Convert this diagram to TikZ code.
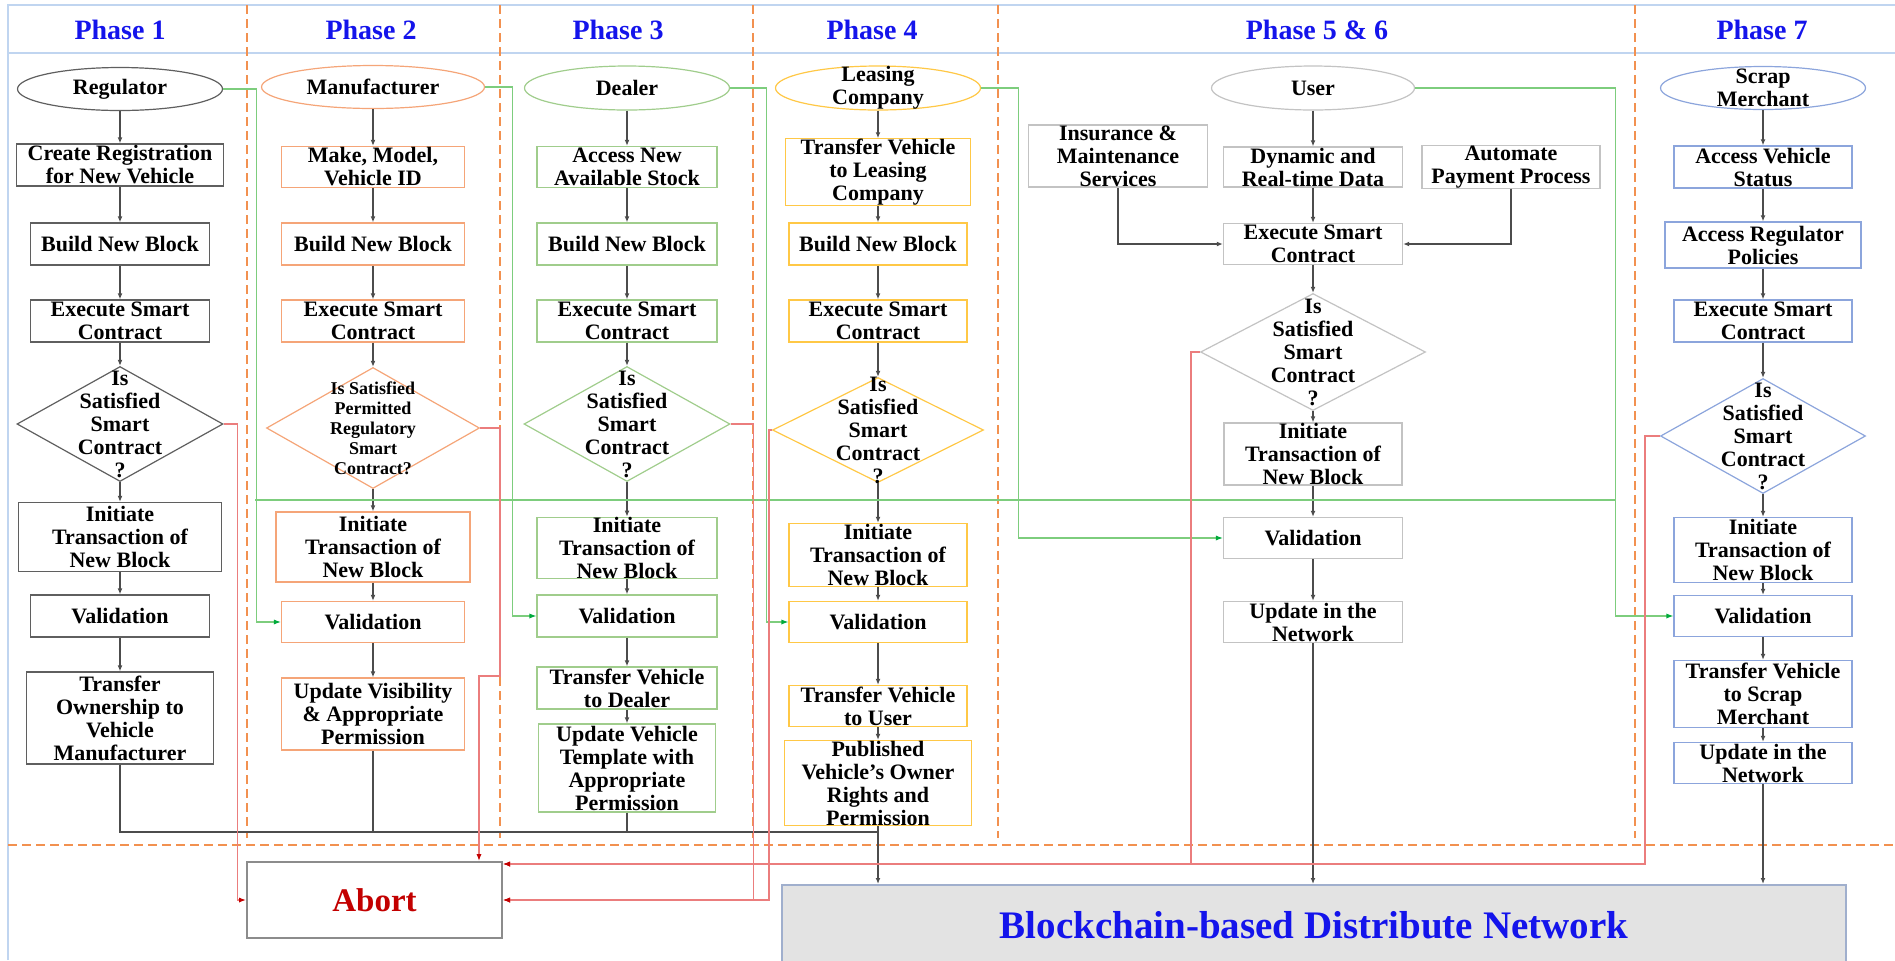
\documentclass[tikz,border=0pt]{standalone}
\usepackage{fontspec}
\setmainfont{Liberation Serif}
\usetikzlibrary{shapes.geometric,arrows.meta,calc}
\definecolor{frameblue}{RGB}{192,213,240}
\definecolor{sepor}{RGB}{242,145,80}
\definecolor{ttlblue}{RGB}{20,20,235}
\definecolor{c1}{RGB}{95,95,95}
\definecolor{c2}{RGB}{245,165,120}
\definecolor{c3}{RGB}{160,205,140}
\definecolor{c4}{RGB}{255,200,70}
\definecolor{c5}{RGB}{195,195,195}
\definecolor{c7}{RGB}{140,165,220}
\definecolor{lnkgreen}{RGB}{125,205,125}
\definecolor{tipgreen}{RGB}{0,170,60}
\definecolor{lnkred}{RGB}{235,125,125}
\definecolor{abortred}{RGB}{195,0,0}
\definecolor{chaingray}{RGB}{227,227,227}
\definecolor{chainedge}{RGB}{160,175,205}

\begin{document}
\begin{tikzpicture}
  [x=0.5pt,y=-0.5pt,
   every node/.style={font=\bfseries\fontsize{11}{11.5}\selectfont,align=center,inner sep=0pt},
   box/.style={draw,rectangle,fill=white,line width=0.6pt},
   oval/.style={draw,ellipse,fill=white,line width=0.6pt},
   dia/.style={draw,diamond,fill=white,line width=0.6pt},
   ttl/.style={text=ttlblue,font=\bfseries\fontsize{14}{16}\selectfont},
   arr/.style={draw=black!70,line width=0.6pt,-{Latex[length=3pt,width=2.4pt]}},
   gline/.style={draw=lnkgreen,line width=0.6pt},
   grn/.style={gline,-{Latex[length=3.5pt,width=2.6pt,color=tipgreen]}},
   nok/.style={draw=lnkred,line width=0.6pt,-{Latex[length=3.5pt,width=2.6pt,color=abortred]}},
   sep/.style={draw=sepor,dash pattern=on 4.5pt off 2.5pt,line width=0.8pt}]
  \useasboundingbox (0,0) rectangle (1895,960);

  \draw[frameblue,line width=1.2pt] (8,960) -- (8,5) -- (1895,5);
  \draw[frameblue,line width=1.2pt] (8,53) -- (1895,53);
  \foreach \sx in {247,500,753,998,1635}
    \draw[sep] (\sx,5) -- (\sx,838);
  \draw[sep] (8,845) -- (1895,845);

  \node[ttl] (t1) at (120,30) {Phase 1};
  \node[ttl] (t2) at (371,30) {Phase 2};
  \node[ttl] (t3) at (618,30) {Phase 3};
  \node[ttl] (t4) at (872,30) {Phase 4};
  \node[ttl] (t5) at (1317,30) {Phase 5 \& 6};
  \node[ttl] (t7) at (1762,30) {Phase 7};

  \node[oval,draw=c1,minimum width=102.5pt,minimum height=21.5pt,label=center:Regulator] (reg) at (120,89) {};
  \node[box,draw=c1,minimum width=103.5pt,minimum height=21pt] (p1a) at (120,165) {Create Registration\\for New Vehicle};
  \node[box,draw=c1,minimum width=89.5pt,minimum height=21pt] (p1b) at (120,244) {Build New Block};
  \node[box,draw=c1,minimum width=89.5pt,minimum height=21pt] (p1c) at (120,321) {Execute Smart\\Contract};
  \node[dia,draw=c1,minimum width=103pt,minimum height=57.5pt,label={center:{Is\\Satisfied\\Smart\\Contract\\?}}] (p1d) at (120,424) {};
  \node[box,draw=c1,minimum width=101.5pt,minimum height=34.5pt] (p1e) at (120,537) {Initiate\\Transaction of\\New Block};
  \node[box,draw=c1,minimum width=89.5pt,minimum height=21pt] (p1f) at (120,616) {Validation};
  \node[box,draw=c1,minimum width=93.5pt,minimum height=46pt] (p1g) at (120,718) {Transfer\\Ownership to\\Vehicle\\Manufacturer};

  \node[oval,draw=c2,minimum width=111.5pt,minimum height=21.5pt,label=center:Manufacturer] (man) at (373,87) {};
  \node[box,draw=c2,minimum width=91.5pt,minimum height=20.5pt] (p2a) at (373,167) {Make, Model,\\Vehicle ID};
  \node[box,draw=c2,minimum width=91.5pt,minimum height=21pt] (p2b) at (373,244) {Build New Block};
  \node[box,draw=c2,minimum width=91.5pt,minimum height=21pt] (p2c) at (373,321) {Execute Smart\\Contract};
  \node[dia,draw=c2,minimum width=106.5pt,minimum height=60.5pt,label={[font=\bfseries\fontsize{9}{10}\selectfont]center:{Is Satisfied\\Permitted\\Regulatory\\Smart\\Contract?}}] (p2d) at (373,428) {};
  \node[box,draw=c2,minimum width=97pt,minimum height=35pt] (p2e) at (373,547) {Initiate\\Transaction of\\New Block};
  \node[box,draw=c2,minimum width=91.5pt,minimum height=20.5pt] (p2f) at (373,622) {Validation};
  \node[box,draw=c2,minimum width=91.5pt,minimum height=36pt] (p2g) at (373,714) {Update Visibility\\\& Appropriate\\Permission};

  \node[oval,draw=c3,minimum width=102.5pt,minimum height=22pt,label=center:Dealer] (dea) at (627,88) {};
  \node[box,draw=c3,minimum width=90pt,minimum height=20.5pt] (p3a) at (627,167) {Access New\\Available Stock};
  \node[box,draw=c3,minimum width=90pt,minimum height=21pt] (p3b) at (627,244) {Build New Block};
  \node[box,draw=c3,minimum width=90pt,minimum height=21pt] (p3c) at (627,321) {Execute Smart\\Contract};
  \node[dia,draw=c3,minimum width=103pt,minimum height=57.5pt,label={center:{Is\\Satisfied\\Smart\\Contract\\?}}] (p3d) at (627,424) {};
  \node[box,draw=c3,minimum width=90pt,minimum height=30pt] (p3e) at (627,548) {Initiate\\Transaction of\\New Block};
  \node[box,draw=c3,minimum width=90pt,minimum height=21pt] (p3f) at (627,616) {Validation};
  \node[box,draw=c3,minimum width=90pt,minimum height=21pt] (p3g) at (627,688) {Transfer Vehicle\\to Dealer};
  \node[box,draw=c3,minimum width=88.5pt,minimum height=44pt] (p3h) at (627,768) {Update Vehicle\\Template with\\Appropriate\\Permission};

  \node[oval,draw=c4,minimum width=102.5pt,minimum height=22pt,label={center:{Leasing\\Company}}] (lea) at (878,88) {};
  \node[box,draw=c4,minimum width=92.5pt,minimum height=32.5pt] (p4a) at (878,172) {Transfer Vehicle\\to Leasing\\Company};
  \node[box,draw=c4,minimum width=89pt,minimum height=21pt] (p4b) at (878,244) {Build New Block};
  \node[box,draw=c4,minimum width=89pt,minimum height=21pt] (p4c) at (878,321) {Execute Smart\\Contract};
  \node[dia,draw=c4,minimum width=105.5pt,minimum height=52.5pt,label={center:{Is\\Satisfied\\Smart\\Contract\\?}}] (p4d) at (878,430) {};
  \node[box,draw=c4,minimum width=89pt,minimum height=31.5pt] (p4e) at (878,555) {Initiate\\Transaction of\\New Block};
  \node[box,draw=c4,minimum width=89pt,minimum height=20.5pt] (p4f) at (878,622) {Validation};
  \node[box,draw=c4,minimum width=89pt,minimum height=20.5pt] (p4g) at (878,706) {Transfer Vehicle\\to User};
  \node[box,draw=c4,minimum width=93.5pt,minimum height=42.5pt] (p4h) at (878,783) {Published\\Vehicle’s Owner\\Rights and\\Permission};

  \node[oval,draw=c5,minimum width=101.5pt,minimum height=22pt,label=center:User] (usr) at (1313,88) {};
  \node[box,draw=c5,minimum width=89.5pt,minimum height=31pt] (p5i) at (1118,156) {Insurance \&\\Maintenance\\Services};
  \node[box,draw=c5,minimum width=89.5pt,minimum height=20pt] (p5a) at (1313,167) {Dynamic and\\Real-time Data};
  \node[box,draw=c5,minimum width=89pt,minimum height=20pt] (p5p) at (1511,167) {Automate\\Payment Process};
  \node[box,draw=c5,minimum width=89.5pt,minimum height=20.5pt] (p5c) at (1313,244) {Execute Smart\\Contract};
  \node[dia,draw=c5,minimum width=112.5pt,minimum height=58.5pt,label={center:{Is\\Satisfied\\Smart\\Contract\\?}}] (p5d) at (1313,352) {};
  \node[box,draw=c5,minimum width=89pt,minimum height=31pt] (p5e) at (1313,454) {Initiate\\Transaction of\\New Block};
  \node[box,draw=c5,minimum width=89.5pt,minimum height=20.5pt] (p5f) at (1313,538) {Validation};
  \node[box,draw=c5,minimum width=89.5pt,minimum height=20.5pt] (p5g) at (1313,622) {Update in the\\Network};

  \node[oval,draw=c7,minimum width=102.5pt,minimum height=21.5pt,label={center:{Scrap\\Merchant}}] (scr) at (1763,88) {};
  \node[box,draw=c7,minimum width=89pt,minimum height=21pt] (p7a) at (1763,167) {Access Vehicle\\Status};
  \node[box,draw=c7,minimum width=98pt,minimum height=23pt] (p7b) at (1763,245) {Access Regulator\\Policies};
  \node[box,draw=c7,minimum width=89pt,minimum height=21pt] (p7c) at (1763,321) {Execute Smart\\Contract};
  \node[dia,draw=c7,minimum width=102.5pt,minimum height=57.5pt,label={center:{Is\\Satisfied\\Smart\\Contract\\?}}] (p7d) at (1763,436) {};
  \node[box,draw=c7,minimum width=89pt,minimum height=32.5pt] (p7e) at (1763,550) {Initiate\\Transaction of\\New Block};
  \node[box,draw=c7,minimum width=89pt,minimum height=20.5pt] (p7f) at (1763,616) {Validation};
  \node[box,draw=c7,minimum width=89pt,minimum height=33.5pt] (p7g) at (1763,694) {Transfer Vehicle\\to Scrap\\Merchant};
  \node[box,draw=c7,minimum width=89pt,minimum height=20.5pt] (p7h) at (1763,763) {Update in the\\Network};

  \node[draw=black!45,line width=1pt,fill=white,minimum width=127.5pt,minimum height=38pt,text=abortred,font=\bfseries\fontsize{16.5}{18}\selectfont] (abort) at (374.5,900) {Abort};
  \node[draw=chainedge,fill=chaingray,line width=1pt,minimum width=532pt,minimum height=40pt,text=ttlblue,font=\bfseries\fontsize{19.5}{22}\selectfont] (chain) at (1314,925) {Blockchain-based Distribute Network};

  \foreach \from/\to in {reg/p1a,p1a/p1b,p1b/p1c,p1c/p1d,p1d/p1e,p1e/p1f,p1f/p1g,
      man/p2a,p2a/p2b,p2b/p2c,p2c/p2d,p2d/p2e,p2e/p2f,p2f/p2g,
      dea/p3a,p3a/p3b,p3b/p3c,p3c/p3d,p3d/p3e,p3e/p3f,p3f/p3g,p3g/p3h,
      lea/p4a,p4a/p4b,p4b/p4c,p4c/p4d,p4d/p4e,p4e/p4f,p4f/p4g,p4g/p4h,
      usr/p5a,p5a/p5c,p5c/p5d,p5d/p5e,p5e/p5f,p5f/p5g,
      scr/p7a,p7a/p7b,p7b/p7c,p7c/p7d,p7d/p7e,p7e/p7f,p7f/p7g,p7g/p7h}
    \draw[arr] (\from) -- (\to);
  \draw[arr] (p5i.south) |- (p5c.west);
  \draw[arr] (p5p.south) |- (p5c.east);

  \coordinate (bus1) at (120,832);
  \coordinate (bus4) at (878,832);
  \draw[draw=black!70,line width=0.6pt] (p1g.south) -- (bus1) -- (bus4);
  \draw[draw=black!70,line width=0.6pt] (p2g.south) -- (p2g.south |- bus1);
  \draw[draw=black!70,line width=0.6pt] (p3h.south) -- (p3h.south |- bus1);
  \draw[arr] (p4h.south) -- (p4h.south |- chain.north);
  \draw[arr] (p5g.south) -- (p5g.south |- chain.north);
  \draw[arr] (p7h.south) -- (p7h.south |- chain.north);

  \draw[grn] (reg.east) -- ++(33,0) |- (p2f.west);
  \draw[grn] (man.east) -- ++(27,0) |- (p3f.west);
  \draw[grn] (dea.east) -- ++(36,0) |- (p4f.west);
  \draw[grn] (lea.east) -- ++(37,0) |- (p5f.west);
  \draw[grn] (usr.east) -- ++(200,0) |- (p7f.west);
  \coordinate (gb1) at (255,500);
  \coordinate (gb2) at (1615,500);
  \draw[gline] (gb1) -- (gb2);

  \coordinate (rk) at (479,676);
  \coordinate (ab2) at ($(abort.north east)+(0,3)$);
  \draw[nok] (p1d.east) -- ++(14,0) |- (abort.west);
  \draw[nok] (p2d.east) -| (500,676) -- (rk) -- (rk |- abort.north);
  \draw[nok] (p3d.east) -- ++(23,0) |- (abort.east);
  \draw[nok] (p4d.west) -- ++(-3,0) |- (abort.east);
  \draw[nok] (p5d.west) -- ++(-9,0) |- (ab2);
  \draw[nok] (p7d.west) -- ++(-15,0) |- (ab2);
\end{tikzpicture}
\end{document}
